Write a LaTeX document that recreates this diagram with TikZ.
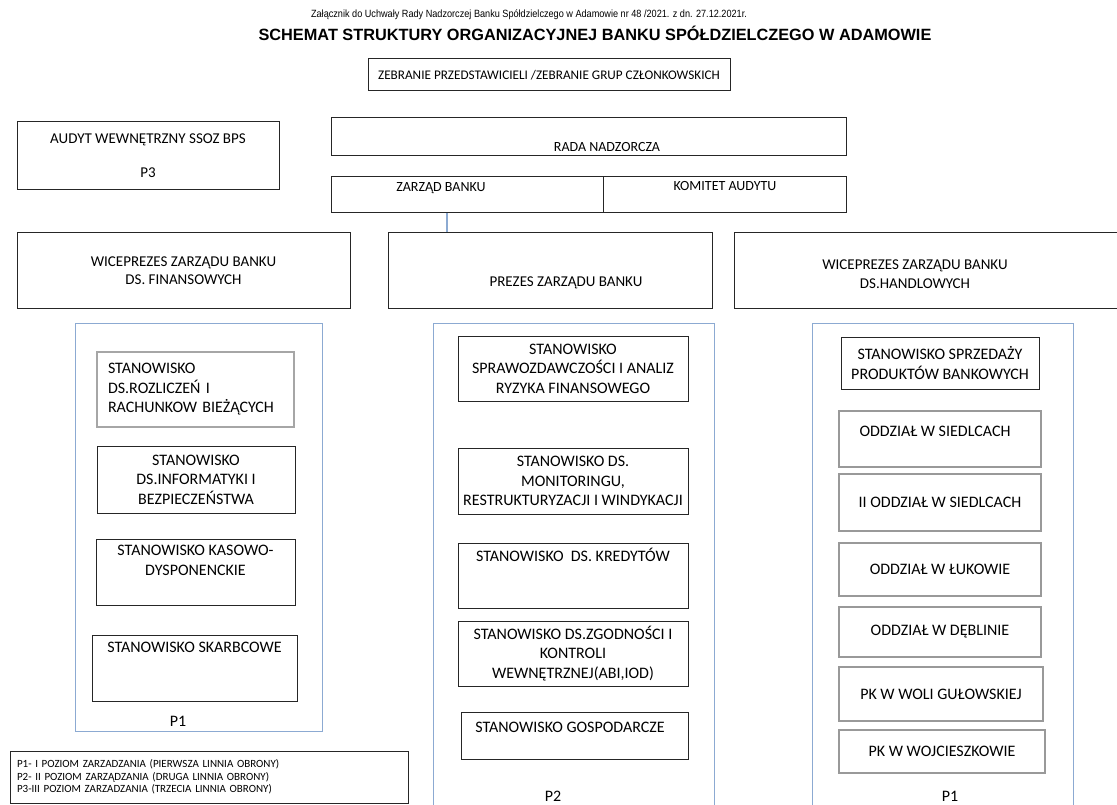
\documentclass[tikz,border=0pt]{standalone}
\usepackage{fontspec}
\setmainfont{Carlito}
\newfontfamily\arialfont{Liberation Sans}
\newfontfamily\narrowfont[FakeStretch=0.87]{Liberation Sans}
\usetikzlibrary{positioning}

\definecolor{panelblue}{RGB}{140,170,210}

\begin{document}
\begin{tikzpicture}[x=1pt, y=-1pt,
  box/.style={rectangle, draw=black!85, line width=1pt, inner sep=0pt, align=center,
              font=\fontsize{16}{19.5}\selectfont},
  topbox/.style={box, font=\fontsize{14}{18}\selectfont},
  obox/.style={box, draw=gray!80, line width=1.8pt},
  panel/.style={rectangle, draw=panelblue, line width=0.9pt, inner sep=0pt},
  txt/.style={inner sep=0pt, align=center, font=\fontsize{16}{19.5}\selectfont},
  toptxt/.style={txt, font=\fontsize{14}{18}\selectfont},
  conn/.style={draw=panelblue, line width=1.2pt}
]
\useasboundingbox (0,0) rectangle (1117,805);

% Header
\node[font=\narrowfont\fontsize{10.5}{12}\selectfont] (annex) at (529,15)
  {Załącznik do Uchwały Rady Nadzorczej Banku Spółdzielczego w Adamowie nr 48 /2021. z dn. 27.12.2021r.};
\node[font=\arialfont\bfseries\fontsize{16.3}{18}\selectfont] (title) at (595,33)
  {SCHEMAT STRUKTURY ORGANIZACYJNEJ BANKU SPÓŁDZIELCZEGO W ADAMOWIE};

% Top level
\node[box, minimum width=362pt, minimum height=32pt, font=\fontsize{13.2}{16}\selectfont] (zebranie) at (549,75)
  {ZEBRANIE PRZEDSTAWICIELI /ZEBRANIE GRUP CZŁONKOWSKICH};
\node[box, minimum width=262pt, minimum height=68pt, font=\fontsize{15}{19}\selectfont] (audyt) at (148,156)
  {AUDYT WEWNĘTRZNY SSOZ BPS\\[15pt]P3};
\node[topbox, minimum width=515pt, minimum height=38pt] (rada) at (588.5,137) {};
\node[toptxt] (rada-t) at (607,147) {RADA NADZORCZA};
\node[topbox, minimum width=272pt, minimum height=36pt] (zarzad) at (467,195) {};
\node[toptxt] (zarzad-t) at (441,188) {ZARZĄD BANKU};
\node[topbox, minimum width=243pt, minimum height=36pt] (komitet) at (724.5,195) {};
\node[toptxt] (komitet-t) at (725,186) {KOMITET AUDYTU};

% Management board
\node[box, minimum width=333pt, minimum height=75pt, font=\fontsize{15}{18.5}\selectfont] (vfin) at (183.5,270.5)
  {WICEPREZES ZARZĄDU BANKU\\DS. FINANSOWYCH};
\node[box, minimum width=324pt, minimum height=75pt] (prezes) at (550,270.5) {};
\node[txt, font=\fontsize{15}{18.5}\selectfont] (prezes-t) at (566,283) {PREZES ZARZĄDU BANKU};
\node[box, minimum width=390pt, minimum height=75pt] (vhan) at (929,270.5) {};
\node[txt, font=\fontsize{15}{18.5}\selectfont] (vhan-t) at (915,274) {WICEPREZES ZARZĄDU BANKU\\DS.HANDLOWYCH};

\draw[conn] ([xshift=-20pt]zarzad.south) -- ([xshift=-20pt]zarzad.south |- prezes.north);

% Panels
\node[panel, minimum width=247pt, minimum height=408pt] (pfin) at (198.5,527) {};
\node[panel, minimum width=281pt, minimum height=492pt] (ppre) at (573.5,569) {};
\node[panel, minimum width=261pt, minimum height=492pt] (phan) at (942.5,569) {};

% Finance units
\node[obox, draw=gray!70, line width=1.4pt, minimum width=197pt, minimum height=75pt, align=left, text width=175pt, inner xsep=11pt] (rozl) at (195.5,389.5)
  {STANOWISKO\\DS.ROZLICZEŃ I\\RACHUNKOW BIEŻĄCYCH};
\node[box, minimum width=198pt, minimum height=67pt] (inf) at (196,479.5)
  {STANOWISKO\\DS.INFORMATYKI I\\BEZPIECZEŃSTWA};
\node[box, minimum width=199pt, minimum height=66pt] (kas) at (195.5,572) {};
\node[txt] (kas-t) at (195.5,560.5) {STANOWISKO KASOWO-\\DYSPONENCKIE};
\node[box, minimum width=205pt, minimum height=66pt] (skarb) at (194.5,668) {};
\node[txt] (skarb-t) at (194.5,647) {STANOWISKO SKARBCOWE};
\node[txt] (pfin-t) at (178,721) {P1};

% President units
\node[box, minimum width=230pt, minimum height=65pt] (spraw) at (573,368.5)
  {STANOWISKO\\SPRAWOZDAWCZOŚCI I ANALIZ\\RYZYKA FINANSOWEGO};
\node[box, minimum width=230pt, minimum height=66pt] (monit) at (573,481)
  {STANOWISKO DS.\\MONITORINGU,\\RESTRUKTURYZACJI I WINDYKACJI};
\node[box, minimum width=230pt, minimum height=65pt] (kred) at (573,575.5) {};
\node[txt] (kred-t) at (573,555) {STANOWISKO\ \ DS. KREDYTÓW};
\node[box, minimum width=230pt, minimum height=65pt] (zgod) at (573,653.5)
  {STANOWISKO DS.ZGODNOŚCI I\\KONTROLI\\WEWNĘTRZNEJ(ABI,IOD)};
\node[box, minimum width=227pt, minimum height=47pt] (gosp) at (574.5,735.5) {};
\node[txt] (gosp-t) at (570,727) {STANOWISKO GOSPODARCZE};
\node[txt] (ppre-t) at (553,796) {P2};

% Sales units
\node[box, minimum width=198pt, minimum height=52pt] (sprz) at (940,363)
  {STANOWISKO SPRZEDAŻY\\PRODUKTÓW BANKOWYCH};
\node[obox, minimum width=202pt, minimum height=56pt] (sied) at (940,439) {};
\node[txt] (sied-t) at (935,431) {ODDZIAŁ W SIEDLCACH};
\node[obox, minimum width=202pt, minimum height=57pt] (sied2) at (940,502.5) {II ODDZIAŁ W SIEDLCACH};
\node[obox, minimum width=202pt, minimum height=53pt] (luk) at (940,569.5) {ODDZIAŁ W ŁUKOWIE};
\node[obox, minimum width=202pt, minimum height=50pt] (debl) at (940,632) {ODDZIAŁ W DĘBLINIE};
\node[obox, minimum width=204pt, minimum height=54pt] (wola) at (941,694) {PK W WOLI GUŁOWSKIEJ};
\node[obox, minimum width=206pt, minimum height=43pt] (wojc) at (942,751.5) {PK W WOJCIESZKOWIE};
\node[txt] (phan-t) at (950,796) {P1};

% Legend
\node[box, minimum width=398pt, minimum height=52pt, align=left, text width=384pt, inner xsep=7pt,
      font=\fontsize{11}{12.5}\selectfont] (legend) at (209,777)
  {P1- I POZIOM ZARZADZANIA (PIERWSZA LINNIA OBRONY)\\
   P2- II POZIOM ZARZĄDZANIA (DRUGA LINNIA OBRONY)\\
   P3-III POZIOM ZARZADZANIA (TRZECIA LINNIA OBRONY)};
\end{tikzpicture}
\end{document}
